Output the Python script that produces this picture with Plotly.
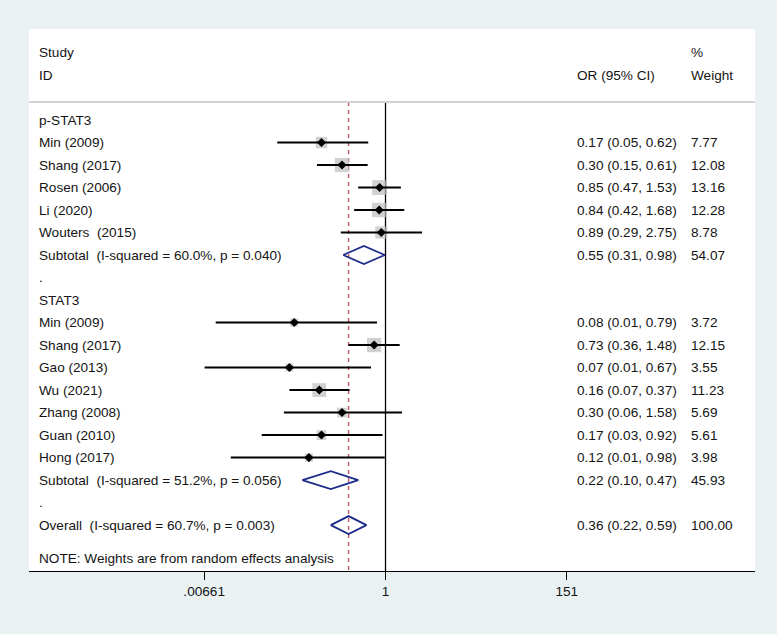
import math
import plotly.graph_objects as go

# ---------------- data ----------------
pstat3_studies = ["Min (2009)", "Shang (2017)", "Rosen (2006)", "Li (2020)", "Wouters\u00a0 (2015)"]
pstat3_or = [0.17, 0.30, 0.85, 0.84, 0.89]
pstat3_lo = [0.05, 0.15, 0.47, 0.42, 0.29]
pstat3_hi = [0.62, 0.61, 1.53, 1.68, 2.75]
pstat3_w = [7.77, 12.08, 13.16, 12.28, 8.78]

stat3_studies = ["Min (2009)", "Shang (2017)", "Gao (2013)", "Wu (2021)",
                 "Zhang (2008)", "Guan (2010)", "Hong (2017)"]
stat3_or = [0.08, 0.73, 0.07, 0.16, 0.30, 0.17, 0.12]
stat3_lo = [0.0091, 0.36, 0.0067, 0.07, 0.06, 0.0325, 0.0138]
stat3_hi = [0.79, 1.48, 0.67, 0.37, 1.58, 0.92, 0.98]
stat3_w = [3.72, 12.15, 3.55, 11.23, 5.69, 5.61, 3.98]

group_names = ["p-STAT3", "STAT3"]
subtotal_labels = ["Subtotal\u00a0 (I-squared = 60.0%, p = 0.040)",
                   "Subtotal\u00a0 (I-squared = 51.2%, p = 0.056)"]
subtotal_or = [0.55, 0.22]
subtotal_lo = [0.31, 0.10]
subtotal_hi = [0.98, 0.47]
subtotal_w = [54.07, 45.93]

overall_label = "Overall\u00a0 (I-squared = 60.7%, p = 0.003)"
overall_or = 0.36
overall_lo = 0.22
overall_hi = 0.59
overall_w = 100.00

note_text = "NOTE: Weights are from random effects analysis"
tick_vals = [0.00661, 1, 151]
tick_text = [".00661", "1", "151"]

# ---------------- layout constants ----------------
W, H = 777, 634
ML, MR, MT, MB = 29, 22, 29, 63
PW = W - ML - MR
FONT = "Liberation Sans, Arial, sans-serif"
FS = 13.6
TXT = "#141414"
BG = "#e9f1f3"

def px_to_paper(px):
    return (px - ML) / PW

X_STUDY = px_to_paper(36.5)
X_OR = px_to_paper(574.5)
X_W = px_to_paper(688.5)

Y_TOP = -4.044
Y_BOT = 20.04
Y_HEADER_LINE = -0.8

# ---------------- rows ----------------
rows = []  # (label, kind, est, lo, hi, w)
rows.append((group_names[0], "group", None, None, None, None))
for s, e, l, h, w in zip(pstat3_studies, pstat3_or, pstat3_lo, pstat3_hi, pstat3_w):
    rows.append((s, "study", e, l, h, w))
rows.append((subtotal_labels[0], "sub", subtotal_or[0], subtotal_lo[0], subtotal_hi[0], subtotal_w[0]))
rows.append((".", "blank", None, None, None, None))
rows.append((group_names[1], "group", None, None, None, None))
for s, e, l, h, w in zip(stat3_studies, stat3_or, stat3_lo, stat3_hi, stat3_w):
    rows.append((s, "study", e, l, h, w))
rows.append((subtotal_labels[1], "sub", subtotal_or[1], subtotal_lo[1], subtotal_hi[1], subtotal_w[1]))
rows.append((".", "blank", None, None, None, None))
rows.append((overall_label, "sub", overall_or, overall_lo, overall_hi, overall_w))

fig = go.Figure()

# reference lines
fig.add_trace(go.Scatter(x=[1, 1], y=[Y_HEADER_LINE, Y_BOT + 1], mode="lines",
                         line=dict(color="black", width=1.3), hoverinfo="skip"))
fig.add_trace(go.Scatter(x=[overall_or, overall_or], y=[Y_HEADER_LINE, Y_BOT + 1], mode="lines",
                         line=dict(color="#b9585f", width=1.4, dash="4px,4px"), hoverinfo="skip"))

# CI lines and boxes
cx, cy = [], []
bx, by, bs = [], [], []
for i, (lab, kind, e, l, h, w) in enumerate(rows):
    if kind == "study":
        cx += [l, h, None]
        cy += [i, i, None]
        bx.append(e)
        by.append(i)
        bs.append(4.1 * math.sqrt(w))

fig.add_trace(go.Scatter(x=bx, y=by, mode="markers",
                         marker=dict(symbol="square", size=bs, color="#bdbdbd", line=dict(width=0)),
                         hoverinfo="skip"))
fig.add_trace(go.Scatter(x=cx, y=cy, mode="lines", line=dict(color="black", width=2),
                         hoverinfo="skip"))
fig.add_trace(go.Scatter(x=bx, y=by, mode="markers",
                         marker=dict(symbol="diamond", size=7, color="black", line=dict(width=0)),
                         hoverinfo="skip"))

# pooled diamonds
for i, (lab, kind, e, l, h, w) in enumerate(rows):
    if kind == "sub":
        fig.add_trace(go.Scatter(x=[l, e, h, e, l], y=[i, i - 0.4, i, i + 0.4, i],
                                 mode="lines", line=dict(color="#1c2a8a", width=1.8),
                                 hoverinfo="skip"))

# text annotations
ann = []
def add_text(x, y, t):
    ann.append(dict(x=x, y=y, xref="paper", yref="y", text=t, showarrow=False,
                    xanchor="left", yanchor="middle",
                    font=dict(family=FONT, size=FS, color=TXT)))

add_text(X_STUDY, -3.0, "Study")
add_text(X_STUDY, -2.0, "ID")
add_text(X_OR, -2.0, "OR (95% CI)")
add_text(X_W, -3.0, "%")
add_text(X_W, -2.0, "Weight")

for i, (lab, kind, e, l, h, w) in enumerate(rows):
    add_text(X_STUDY, i, lab)
    if kind in ("study", "sub"):
        add_text(X_OR, i, f"{e:.2f} ({l:.2f}, {h:.2f})")
        add_text(X_W, i, f"{w:.2f}")

add_text(X_STUDY, len(rows) + 0.5, note_text)

fig.update_layout(
    width=W, height=H,
    margin=dict(l=ML, r=MR, t=MT, b=MB),
    paper_bgcolor=BG, plot_bgcolor="white",
    showlegend=False,
    annotations=ann,
    shapes=[dict(type="line", xref="paper", yref="y", x0=0, x1=1,
                 y0=Y_HEADER_LINE, y1=Y_HEADER_LINE,
                 line=dict(color="#d2d2d2", width=2))],
    font=dict(family=FONT, size=FS, color=TXT),
)
fig.update_xaxes(type="log", range=[-4.285, 4.441], tickvals=tick_vals, ticktext=tick_text,
                 ticks="outside", ticklen=8, tickwidth=1.3, tickcolor="black",
                 showline=True, linecolor="black", linewidth=1.3,
                 showgrid=False, zeroline=False,
                 tickfont=dict(family=FONT, size=FS, color=TXT))
fig.update_yaxes(range=[Y_BOT, Y_TOP], showticklabels=False, showgrid=False,
                 zeroline=False, showline=False)

fig.write_html("out.html",
               config={"displayModeBar": False},
               post_script="document.body.style.margin='0';"
                           "document.body.style.overflow='hidden';"
                           "document.body.style.background='" + BG + "';")
